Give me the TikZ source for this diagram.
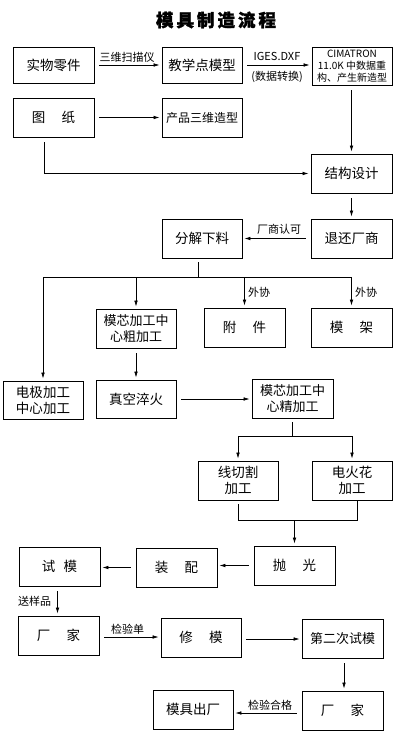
\documentclass[tikz,border=0pt]{standalone}
\usepackage{fontspec}
\setmainfont{Noto Sans CJK SC}
\newfontfamily\titlefont[BoldFeatures={FakeBold=1.5}]{Noto Sans CJK SC}
\usetikzlibrary{arrows.meta}
\begin{document}
\begin{tikzpicture}[x=1pt,y=-1pt,
  box/.style={draw,line width=0.8pt,minimum width=80pt,minimum height=38pt,inner sep=1pt,align=center,font=\fontsize{13.5}{16}\selectfont},
  sbox/.style={box,font=\fontsize{10}{12}\selectfont},
  arr/.style={line width=0.7pt,-{Latex[length=6pt,width=3.6pt]},shorten >=2pt,shorten <=5pt},
  ln/.style={line width=0.7pt},
  lab/.style={font=\fontsize{11}{13}\selectfont,inner sep=0pt}]
\useasboundingbox (0,0) rectangle (408,751);
\fill[white] (0,0) rectangle (408,751);
\node[font=\fontsize{17.5}{20}\selectfont\titlefont\bfseries] (title) at (216,20) {模\hspace{3pt}具\hspace{3pt}制\hspace{3pt}造\hspace{3pt}流\hspace{3pt}程};

\node[box,minimum width=81pt,minimum height=36pt] (real) at (53.5,65) {实物零件};
\node[box,minimum height=36pt] (shuxue) at (202,65) {教学点模型};
\node[sbox] (cima) at (352,66) {CIMATRON\\11.0K 中数据重\\构、产生新造型};
\node[box,minimum width=81pt,minimum height=39pt] (tuzhi) at (53.5,117.5) {图\hspace{1.2em}纸};
\node[box,minimum height=39pt,font=\fontsize{12}{14}\selectfont] (chanpin) at (202,117.5) {产品三维造型};
\node[box,minimum width=81pt,minimum height=39pt] (jiegou) at (351.5,173.5) {结构设计};
\node[box,minimum width=81pt,minimum height=39pt] (tuihuan) at (351.5,238.5) {退还厂商};
\node[box,minimum height=39pt] (fenjie) at (202,238.5) {分解下料};

\node[box] (dianji) at (43,400) {电极加工\\中心加工};
\node[box,minimum height=39pt,font=\fontsize{13}{16}\selectfont] (cu) at (136,328.5) {模芯加工中\\心粗加工};
\node[box,minimum width=81pt,minimum height=39pt] (fujian) at (244.5,327.5) {附\hspace{1.2em}件};
\node[box,minimum width=81pt,minimum height=39pt] (mojia) at (351.5,327.5) {模\hspace{1.2em}架};
\node[box] (zhenkong) at (136,399) {真空淬火};
\node[box,minimum width=81pt,minimum height=39pt,font=\fontsize{13}{16}\selectfont] (jing) at (292.5,398.5) {模芯加工中\\心精加工};

\node[box,minimum height=39pt] (xianqie) at (238,480.5) {线切割\\加工};
\node[box,minimum height=39pt] (dianhuo) at (352,480.5) {电火花\\加工};
\node[box,minimum width=81pt,minimum height=39pt] (paoguang) at (294.5,565.5) {抛\hspace{1.2em}光};
\node[box,minimum width=81pt,minimum height=39pt] (zhuangpei) at (176.5,567.5) {装\hspace{1.2em}配};
\node[box,minimum width=81pt,minimum height=39pt] (shimo) at (59.5,566.5) {试\hspace{0.6em}模};

\node[box,minimum width=81pt,minimum height=39pt] (changjia) at (58.5,635.5) {厂\hspace{1.2em}家};
\node[box,minimum height=39pt] (xiumo) at (201,637.5) {修\hspace{1.2em}模};
\node[box,minimum width=81pt,minimum height=39pt,font=\fontsize{13}{16}\selectfont] (dierci) at (342.5,638.5) {第二次试模};
\node[box,minimum width=81pt,minimum height=39pt] (changjia2) at (342.5,710.5) {厂\hspace{1.2em}家};
\node[box,minimum height=39pt] (chuchang) at (193,709.5) {模具出厂};

% top row
\draw[arr] (real) -- (shuxue);
\node[lab] (l1) at (127,57) {三维扫描仪};
\draw[arr] (shuxue) -- (cima.west |- shuxue);
\node[lab] (l2) at (277,56) {IGES.DXF};
\node[lab] (l3) at (277,77) {(数据转换)};
\draw[arr] (tuzhi) -- (chanpin);
\draw[arr] (cima.south -| jiegou.north) -- (jiegou.north);
\draw[arr] ([xshift=-9.5pt]tuzhi.south) |- (jiegou.west);
\draw[arr] (jiegou) -- (tuihuan);
\draw[arr] (tuihuan) -- (fenjie);
\node[lab] (l4) at (279,229) {厂商认可};

% distribution bus
\coordinate (busL) at (43,277);
\coordinate (busR) at (351.5,277);
\draw[ln,shorten <=4pt] ([xshift=-4pt]fenjie.south) -- ([xshift=-4pt]fenjie.south |- busL);
\draw[ln] (busL) -- (busR);
\draw[arr,shorten <=0pt] (busL) -- (dianji.north);
\draw[arr,shorten <=0pt] (cu.north |- busL) -- (cu.north);
\draw[arr,shorten <=0pt] (fujian.north |- busL) -- (fujian.north);
\draw[arr,shorten <=0pt] (busR) -- (mojia.north);
\node[lab] (l5) at (259,292.5) {外协};
\node[lab] (l6) at (366,292.5) {外协};

\draw[arr] (cu) -- (zhenkong);
\draw[arr] (zhenkong) -- (jing.west |- zhenkong);

% fine machining split
\coordinate (b2L) at (238,436);
\coordinate (b2R) at (352,436);
\draw[ln,shorten <=4pt] (jing.south) -- (jing.south |- b2L);
\draw[ln] (b2L) -- (b2R);
\draw[arr,shorten <=0pt] (b2L) -- (xianqie.north);
\draw[arr,shorten <=0pt] (b2R) -- (dianhuo.north);
\coordinate (m1) at (238,520);
\coordinate (m2) at (357,520);
\coordinate (mc) at (294.5,520);
\draw[ln,shorten <=4pt] (xianqie.south) -- (m1) -- (m2) -- ([xshift=5pt]dianhuo.south);
\draw[arr,shorten <=0pt] (mc) -- (paoguang.north);

% bottom rows
\draw[arr] (paoguang.west) -- (zhuangpei.east |- paoguang.west);
\draw[arr] (zhuangpei.west) -- (shimo.east |- zhuangpei.west);
\draw[arr] ([xshift=-2pt]shimo.south) -- ([xshift=-1pt]changjia.north);
\node[lab] (l7) at (34.5,601) {送样品};
\draw[arr] (changjia.east |- 0,637) -- (xiumo.west |- 0,637);
\node[lab] (l8) at (127.5,629) {检验单};
\draw[arr] (xiumo.east |- 0,639) -- (dierci.west |- 0,639);
\draw[arr] ([xshift=1.5pt]dierci.south) -- ([xshift=1.5pt]changjia2.north);
\draw[arr] (changjia2.west |- 0,713) -- (chuchang.east |- 0,713);
\node[lab] (l9) at (270,705) {检验合格};
\end{tikzpicture}
\end{document}
